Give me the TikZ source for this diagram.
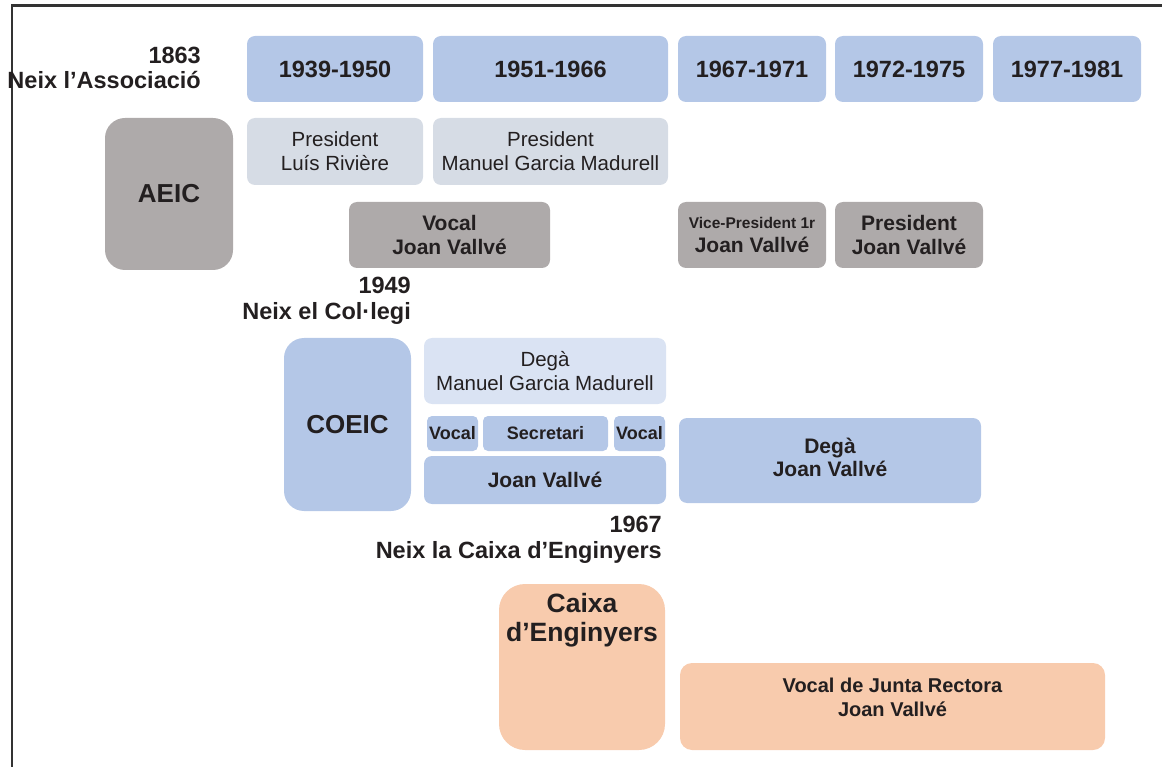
\documentclass[tikz,border=0pt]{standalone}
\usepackage{fontspec}
\setmainfont{Liberation Sans}
\definecolor{yblue}{HTML}{B4C7E7}
\definecolor{pgray}{HTML}{D6DCE5}
\definecolor{lblue}{HTML}{DAE3F3}
\definecolor{bgray}{HTML}{AEAAAA}
\definecolor{peach}{HTML}{F8CBAD}
\definecolor{ink}{HTML}{231F20}
\definecolor{frame}{HTML}{333333}
\begin{document}
\begin{tikzpicture}[x=1pt,y=-1pt,
  box/.style={rounded corners=8pt, inner sep=0pt, outer sep=0pt, align=center, text=ink},
  yr/.style={box, fill=yblue, font=\bfseries\fontsize{23.5}{26}\selectfont},
  pres/.style={box, fill=pgray, font=\fontsize{20.5}{24}\selectfont},
  gbox/.style={box, fill=bgray, font=\bfseries\fontsize{21}{23.5}\selectfont},
  bbox/.style={box, fill=yblue, font=\bfseries\fontsize{21}{23.5}\selectfont},
  sbox/.style={box, rounded corners=5pt, fill=yblue, font=\bfseries\fontsize{18}{20}\selectfont},
  lab/.style={inner sep=0pt, align=right, text=ink, font=\bfseries\fontsize{23.5}{25.5}\selectfont},
  big/.style={box, rounded corners=20pt, font=\bfseries\fontsize{26}{29}\selectfont}]
\useasboundingbox (0,0) rectangle (1162,767);
\draw[line width=2.5pt, frame] (12,767) -- (12,5.5) -- (1162,5.5);
% year headers
\node[yr, minimum width=176, minimum height=66] (y1) at (335,69) {1939-1950};
\node[yr, minimum width=235, minimum height=66] (y2) at (550.5,69) {1951-1966};
\node[yr, minimum width=148, minimum height=66] (y3) at (752,69) {1967-1971};
\node[yr, minimum width=148, minimum height=66] (y4) at (909,69) {1972-1975};
\node[yr, minimum width=148, minimum height=66] (y5) at (1067,69) {1977-1981};
% labels
\node[lab, anchor=east] (l1863) at (201,68) {1863\\Neix l’Associació};
\node[lab, anchor=east] (l1949) at (411,301) {1949\\Neix el Col·legi};
\node[lab, anchor=east] (l1967) at (662,540) {1967\\Neix la Caixa d’Enginyers};
% AEIC
\node[big, fill=bgray, minimum width=128, minimum height=152] (aeic) at (169,194) {AEIC};
\node[pres, minimum width=176, minimum height=67] (p1) at (335,151.5) {President\\Luís Rivière};
\node[pres, minimum width=235, minimum height=67] (p2) at (550.5,151.5) {President\\Manuel Garcia Madurell};
\node[gbox, minimum width=201, minimum height=66] (v1) at (449.5,235) {Vocal\\Joan Vallvé};
\node[gbox, minimum width=148, minimum height=66] (vp) at (752,235) {{\fontsize{15.5}{18}\selectfont Vice-President 1r}\\Joan Vallvé};
\node[gbox, minimum width=148, minimum height=66] (pj) at (909,235) {President\\Joan Vallvé};
% COEIC
\node[big, fill=yblue, minimum width=127, minimum height=173] (coeic) at (347.5,424.5) {COEIC};
\node[pres, fill=lblue, minimum width=242, minimum height=66] (dm) at (545,371) {Degà\\Manuel Garcia Madurell};
\node[sbox, minimum width=51, minimum height=35] (sv1) at (452.5,433.5) {Vocal};
\node[sbox, minimum width=125, minimum height=35] (ss) at (545.5,433.5) {Secretari};
\node[sbox, minimum width=51, minimum height=35] (sv2) at (639.5,433.5) {Vocal};
\node[bbox, minimum width=242, minimum height=48] (jv) at (545,480) {Joan Vallvé};
\node[bbox, minimum width=302, minimum height=85] (dj) at (830,460.5) {\raisebox{6pt}{\shortstack{Degà\\Joan Vallvé}}};
% Caixa
\node[big, rounded corners=26pt, fill=peach, minimum width=166, minimum height=166] (caixa) at (582,667) {};
\node[inner sep=0pt, align=center, text=ink, font=\bfseries\fontsize{26.5}{29}\selectfont, anchor=north] (caixat) at ([yshift=-9pt]caixa.north) {Caixa\\d’Enginyers};
\node[box, rounded corners=12pt, fill=peach, minimum width=425, minimum height=87, font=\bfseries\fontsize{20}{24}\selectfont] (vj) at (892.5,706.5) {Vocal de Junta Rectora\\Joan Vallvé\\[-6pt]\mbox{}};
\end{tikzpicture}
\end{document}
